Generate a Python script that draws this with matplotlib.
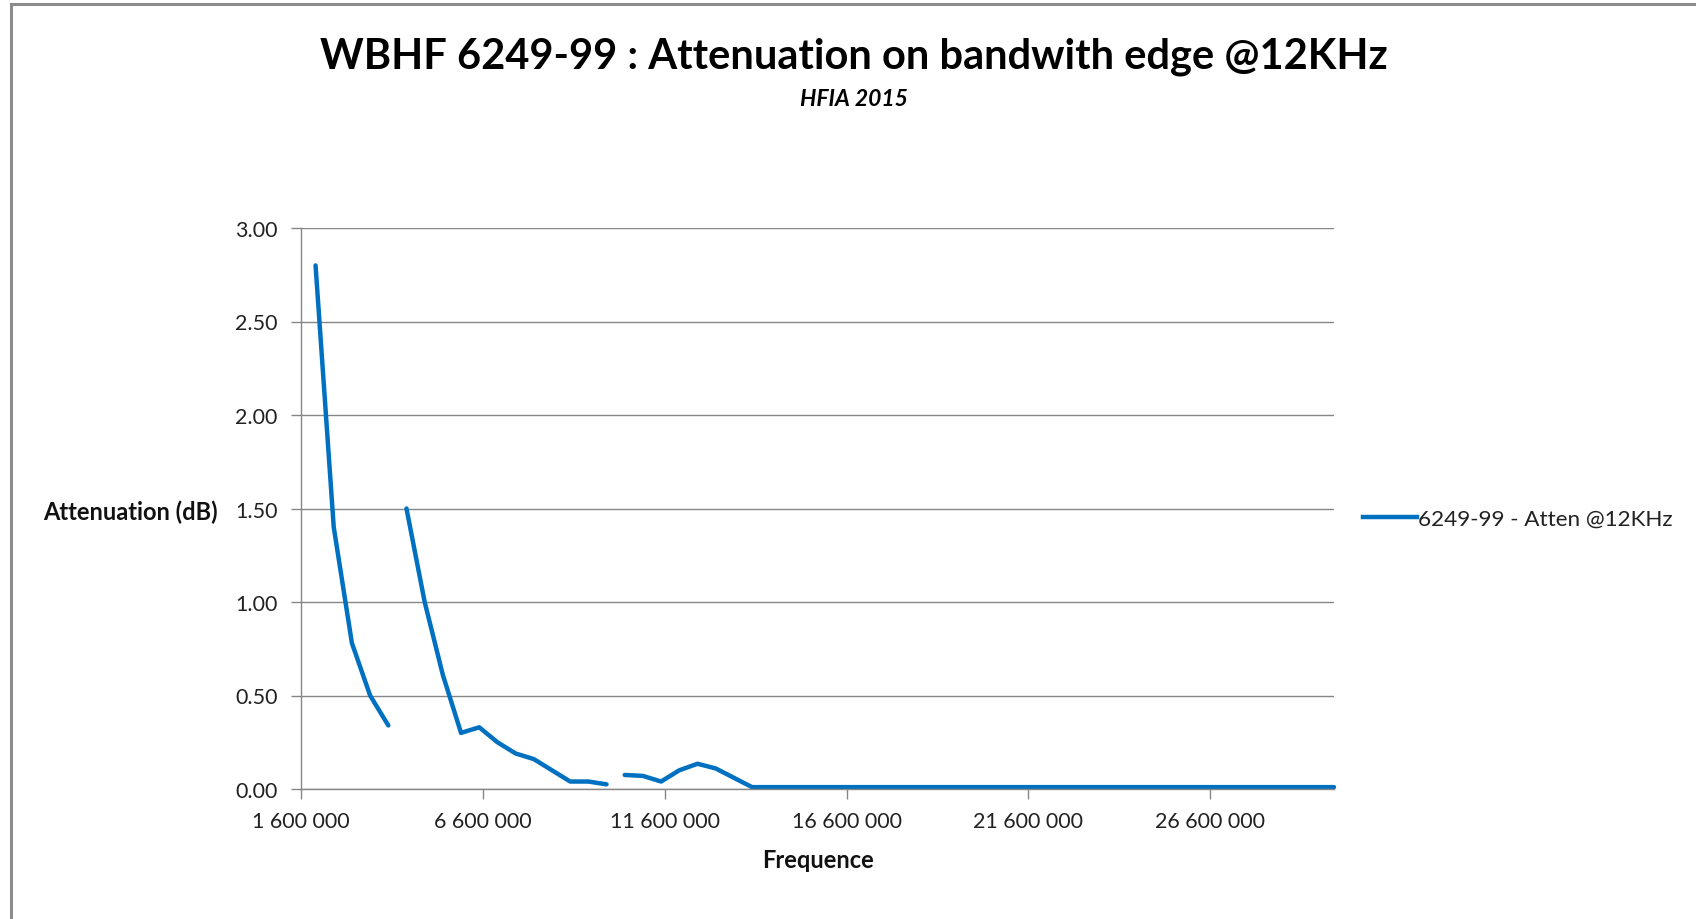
import numpy as np
import matplotlib.pyplot as plt
from matplotlib.ticker import FuncFormatter, MultipleLocator
from matplotlib.lines import Line2D

# frequencies in MHz, None = gap in the Excel series
freq_mhz = [2.0, 2.5, 3.0, 3.5, 4.0, None,
            4.5, 5.0, 5.5, 6.0, 6.5, 7.0, 7.5, 8.0, 8.5, 9.0, 9.5, 10.0, None,
            10.5, 11.0, 11.5, 12.0, 12.5, 13.0, 14.0, 30.0]
atten_db = [2.80, 1.40, 0.78, 0.50, 0.34, None,
            1.50, 1.00, 0.61, 0.30, 0.33, 0.25, 0.19, 0.16, 0.10, 0.04, 0.04, 0.025, None,
            0.075, 0.07, 0.04, 0.10, 0.135, 0.11, 0.01, 0.01]

title = "WBHF 6249-99 : Attenuation on bandwith edge @12KHz"
subtitle = "HFIA 2015"
series_name = "6249-99 - Atten @12KHz"

plt.rcParams['font.family'] = ['Lato', 'DejaVu Sans']

W, H = 1696, 920
fig = plt.figure(figsize=(W / 100, H / 100), dpi=100)

# plot area placed in pixel coords
left, right, top, bottom = 301, 1334, 229, 790
ax = fig.add_axes([left / W, 1 - bottom / H, (right - left) / W, (bottom - top) / H])

x = np.array([np.nan if f is None else f * 1e6 for f in freq_mhz])
y = np.array([np.nan if v is None else v for v in atten_db])
blue = '#0070C0'
ax.plot(x, y, color=blue, lw=3.2, solid_capstyle='round', solid_joinstyle='round',
        label=series_name, clip_on=False)

ax.set_xlim(1.6e6, 30e6)
ax.set_ylim(0, 3)
ax.xaxis.set_major_locator(MultipleLocator(5e6, offset=1.6e6))
ax.yaxis.set_major_locator(MultipleLocator(0.5))
ax.xaxis.set_major_formatter(FuncFormatter(lambda v, p: f"{v:,.0f}".replace(",", " ")))
ax.yaxis.set_major_formatter(FuncFormatter(lambda v, p: f"{v:.2f}"))

grey = '#868686'
ax.grid(axis='y', color=grey, lw=1.0)
ax.set_axisbelow(True)
for s in ['top', 'right']:
    ax.spines[s].set_visible(False)
for s in ['left', 'bottom']:
    ax.spines[s].set_color(grey)
    ax.spines[s].set_linewidth(1.0)
ax.tick_params(axis='both', colors=grey, length=7, width=1.0, labelsize=15.5,
               labelcolor='#222222')
ax.tick_params(axis='x', pad=9)
ax.tick_params(axis='y', pad=10)

ax.set_xlabel("Frequence", fontsize=17, fontweight='bold', labelpad=12, color='#111111')
fig.text(43 / W, 1 - 512 / H, "Attenuation (dB)", fontsize=17, fontweight='bold',
         ha='left', va='center', color='#111111')

fig.text(854 / W, 1 - 57 / H, title, fontsize=30, fontweight='bold',
         ha='center', va='center', color='#000000')
fig.text(854 / W, 1 - 99 / H, subtitle, fontsize=16.5, fontweight='bold', style='italic',
         ha='center', va='center', color='#000000')

leg = fig.legend(handles=[Line2D([], [], color=blue, lw=3.2)], labels=[series_name],
                 loc='center left', bbox_to_anchor=(1354 / W, 1 - 520 / H),
                 frameon=False, fontsize=16.2, handlelength=2.4, handletextpad=0.05,
                 borderaxespad=0)
for t in leg.get_texts():
    t.set_color('#222222')

# chart border (only top and left edges visible in the crop)
fig.add_artist(Line2D([11 / W, 11 / W], [0, 1 - 5 / H], color='#8c8c8c', lw=2.2))
fig.add_artist(Line2D([11 / W, 1], [1 - 5 / H, 1 - 5 / H], color='#8c8c8c', lw=2.2))

fig.savefig("out.png", dpi=100)
